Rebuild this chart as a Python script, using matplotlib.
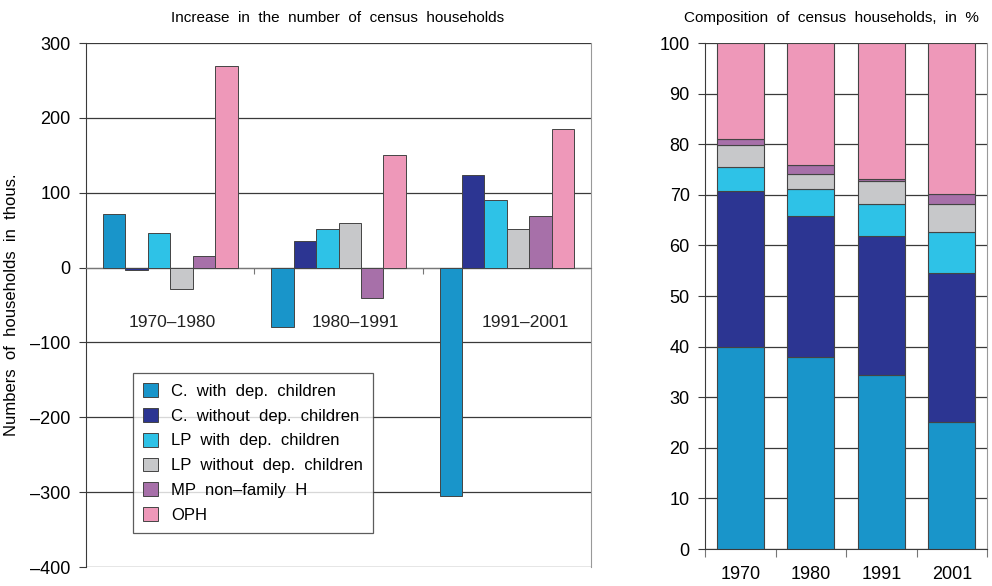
import numpy as np
import matplotlib
matplotlib.use('Agg')
import matplotlib.pyplot as plt

plt.rcParams['font.family'] = ['Liberation Sans Narrow', 'Liberation Sans', 'DejaVu Sans']

# series shared by both panels
series = ['C.  with  dep.  children', 'C.  without  dep.  children',
          'LP  with  dep.  children', 'LP  without  dep.  children',
          'MP  non\u2013family  H', 'OPH']
colors = ['#1995ca', '#2c3592', '#2ec2e7', '#c7c8ca', '#a770a9', '#ee98b9']

# left panel: change in thousands
periods = ['1970\u20131980', '1980\u20131991', '1991\u20132001']
increase = [
    [72, -80, -305],    # C. with dep. children
    [-3, 36, 124],      # C. without dep. children
    [46, 51, 90],       # LP with dep. children
    [-29, 59, 51],      # LP without dep. children
    [16, -40, 69],      # MP non-family H
    [269, 150, 185],    # OPH
]

# right panel: composition in %
years = ['1970', '1980', '1991', '2001']
share = [
    [40.0, 37.9, 34.4, 25.2],
    [30.8, 27.9, 27.5, 29.4],
    [4.7, 5.4, 6.3, 8.1],
    [4.3, 3.0, 4.6, 5.5],
    [1.2, 1.7, 0.4, 1.9],
    [19.0, 24.1, 26.8, 29.9],
]

fig = plt.figure(figsize=(9.92, 5.86), dpi=100)
ax1 = fig.add_axes([0.0867, 0.0324, 0.5091, 0.8942])
ax2 = fig.add_axes([0.7107, 0.0631, 0.2843, 0.8635])

grid_col = '#3a3a3a'
edge_col = '#444444'

# ---- left: grouped bars ----
n = len(series)
bw = 0.8 / n
for i in range(n):
    x = np.arange(len(periods)) + 0.1 + bw * (i + 0.5)
    ax1.bar(x, increase[i], width=bw, color=colors[i], edgecolor=edge_col,
            linewidth=0.7, label=series[i], zorder=3)

ax1.set_xlim(0, len(periods))
ax1.set_ylim(-400, 300)
ax1.set_yticks(np.arange(-400, 301, 100))
ax1.set_yticklabels([f'{v:d}'.replace('-', '\u2013') for v in range(-400, 301, 100)])
ax1.yaxis.grid(True, color=grid_col, linewidth=0.9, zorder=0)
ax1.set_axisbelow(True)
ax1.spines['bottom'].set_position(('data', 0))
ax1.spines['bottom'].set_color('#777777')
ax1.spines['top'].set_visible(False)
ax1.spines['right'].set_color('#999999')
ax1.spines['left'].set_color(grid_col)
ax1.set_xticks(np.arange(1, len(periods)))
ax1.tick_params(axis='x', length=4, direction='out', labelbottom=False, color='#777777')
ax1.tick_params(axis='y', length=5, labelsize=13, pad=6, color=grid_col)
# period labels sit a little right of group centre, as in the original
label_shift = [0.01, 0.1, 0.11]
for j, p in enumerate(periods):
    ax1.text(j + 0.5 + label_shift[j], -73, p, ha='center', va='center',
             fontsize=12.5, color='#222222')
ax1.set_ylabel('Numbers  of  households  in  thous.', fontsize=12, labelpad=8)
fig.text(338 / 992, 1 - 18 / 586, 'Increase  in  the  number  of  census  households',
         ha='center', va='center', fontsize=11)

leg = ax1.legend(loc='upper left', bbox_to_anchor=(0.093, 0.37), fontsize=12,
                 frameon=True, fancybox=False, edgecolor='#333333',
                 handlelength=0.9, handleheight=0.9, labelspacing=0.55,
                 borderpad=0.6, handletextpad=0.8, borderaxespad=0)
leg.get_frame().set_linewidth(0.9)

# ---- right: stacked bars ----
xr = np.arange(len(years))
bottom = np.zeros(len(years))
for i in range(n):
    ax2.bar(xr, share[i], bottom=bottom, width=0.67, color=colors[i],
            edgecolor=edge_col, linewidth=0.8, zorder=3)
    bottom += np.array(share[i])

ax2.set_xlim(-0.5, len(years) - 0.5)
ax2.set_ylim(0, 100)
ax2.set_yticks(np.arange(0, 101, 10))
ax2.yaxis.grid(True, color=grid_col, linewidth=0.9, zorder=0)
ax2.set_axisbelow(True)
ax2.set_xticks(np.arange(-0.5, len(years)), minor=False)
ax2.set_xticklabels([])
ax2.set_xticks(xr, minor=True)
ax2.set_xticklabels(years, minor=True)
ax2.tick_params(axis='x', which='major', length=6, color='#777777')
ax2.tick_params(axis='x', which='minor', length=0, labelsize=13, pad=12)
ax2.tick_params(axis='y', length=5, labelsize=13, pad=6, color=grid_col)
ax2.spines['top'].set_visible(False)
ax2.spines['right'].set_color('#999999')
ax2.spines['left'].set_color(grid_col)
ax2.spines['bottom'].set_color(grid_col)
fig.text(831 / 992, 1 - 18 / 586, 'Composition  of  census  households,  in  %',
         ha='center', va='center', fontsize=11)

fig.savefig('out.png', dpi=100)
